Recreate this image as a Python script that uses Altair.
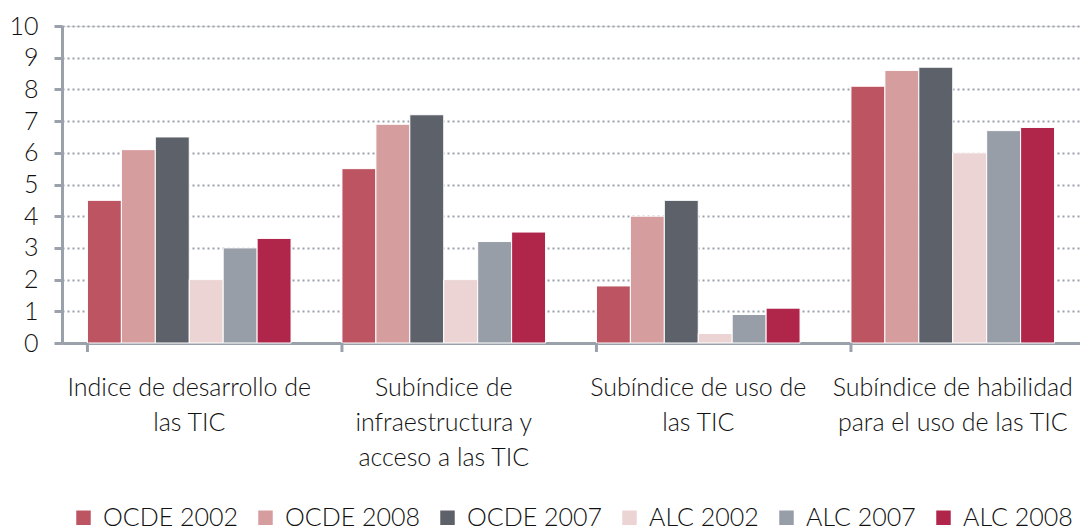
import altair as alt
import pandas as pd

categories = [
    "Indice de desarrollo de|las TIC",
    "Subíndice de|infraestructura y|acceso a las TIC",
    "Subíndice de uso de|las TIC",
    "Subíndice de habilidad|para el uso de las TIC",
]
series = ["OCDE 2002", "OCDE 2008", "OCDE 2007", "ALC 2002", "ALC 2007", "ALC 2008"]
colors = ["#BC5561", "#D69D9F", "#5D6169", "#EBD4D3", "#989EA8", "#B0264B"]

ocde_2002 = [4.5, 5.5, 1.8, 8.1]
ocde_2008 = [6.1, 6.9, 4.0, 8.6]
ocde_2007 = [6.5, 7.2, 4.5, 8.7]
alc_2002 = [2.0, 2.0, 0.3, 6.0]
alc_2007 = [3.0, 3.2, 0.9, 6.7]
alc_2008 = [3.3, 3.5, 1.1, 6.8]

values = [ocde_2002, ocde_2008, ocde_2007, alc_2002, alc_2007, alc_2008]
rows = []
for s, vals in zip(series, values):
    for c, v in zip(categories, vals):
        rows.append({"categoria": c, "serie": s, "valor": v})
df = pd.DataFrame(rows)

FONT = "Lato"
WEIGHT = 300
GRAY = "#9BA1AB"
W, H = 1018, 317

bars = alt.Chart(df).mark_bar(stroke="white", strokeWidth=1).encode(
    x=alt.X(
        "categoria:N",
        sort=categories,
        title=None,
        scale=alt.Scale(paddingInner=0.2, paddingOuter=0.1),
        axis=alt.Axis(
            labelExpr="split(datum.label, '|')",
            labelAngle=0,
            labelFont=FONT,
            labelFontWeight=WEIGHT,
            labelFontSize=25,
            labelColor="#111111",
            labelLineHeight=35,
            labelPadding=32,
            labelBaseline="top",
            labelLimit=0,
            labelOverlap=False,
            ticks=False,
            domain=True,
            domainColor=GRAY,
            domainWidth=3,
        ),
    ),
    xOffset=alt.XOffset("serie:N", sort=series),
    y=alt.Y(
        "valor:Q",
        title=None,
        scale=alt.Scale(domain=[0, 10], nice=False),
        axis=alt.Axis(
            values=list(range(0, 11)),
            labelFont=FONT,
            labelFontWeight=WEIGHT,
            labelFontSize=25,
            labelColor="#111111",
            labelPadding=16,
            tickSize=8,
            tickColor=GRAY,
            tickWidth=3,
            domainColor=GRAY,
            domainWidth=3,
            grid=True,
            gridColor=GRAY,
            gridWidth=2,
            gridDash=[2, 3],
        ),
    ),
    color=alt.Color(
        "serie:N",
        sort=series,
        scale=alt.Scale(domain=series, range=colors),
        legend=alt.Legend(
            title=None,
            orient="none",
            legendX=9,
            legendY=479,
            direction="horizontal",
            columns=6,
            symbolType="square",
            symbolSize=210,
            symbolStrokeWidth=0,
            symbolOpacity=1,
            labelFont=FONT,
            labelFontWeight=WEIGHT,
            labelFontSize=25,
            labelColor="#111111",
            labelOffset=7,
            labelLimit=0,
            columnPadding=15,
            padding=0,
        ),
    ),
)

ticks = alt.Chart(pd.DataFrame({"categoria": categories})).mark_rule(
    color=GRAY, strokeWidth=3
).encode(
    x=alt.X("categoria:N", sort=categories, bandPosition=0),
    y=alt.value(H),
    y2=alt.value(H + 9),
)

chart = alt.layer(bars, ticks).properties(
    width=W, height=H, padding={"left": 0, "top": 6, "right": 0, "bottom": 0}
).configure_view(stroke=None).configure(background="white")

chart.save("out.html", embed_options={"renderer": "svg", "actions": False})
